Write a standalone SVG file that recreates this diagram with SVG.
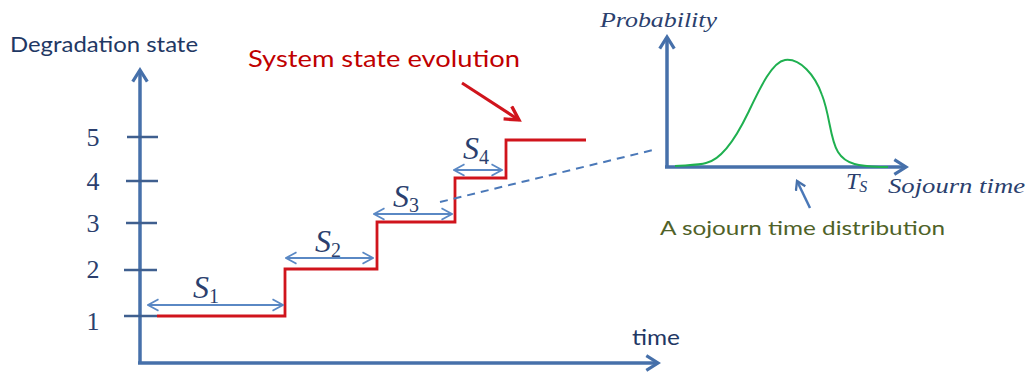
<svg xmlns="http://www.w3.org/2000/svg" width="1030" height="372" viewBox="0 0 1030 372">
  <style>
    .axis { stroke: #4670aa; stroke-width: 3.5; fill: none; stroke-linecap: butt; }
    .tick { stroke: #3f5f8f; stroke-width: 2.5; fill: none; }
    .span { stroke: #5a88c4; stroke-width: 2; fill: none; }
    .red { stroke: #d0141c; stroke-width: 2.8; fill: none; stroke-linejoin: miter; }
    text.math, .math text { font-family: "Liberation Serif", "DejaVu Serif", serif; fill: #2b3f6e; }
    .lbl { font-family: Lato, "Open Sans", "Liberation Sans", sans-serif; }
  </style>
  <defs>
    <marker id="ahs" viewBox="0 0 12 12" refX="11" refY="6" markerWidth="7" markerHeight="7" orient="auto-start-reverse" markerUnits="strokeWidth">
      <polyline points="2,1 11,6 2,11" fill="none" stroke="#5a88c4" stroke-width="1.5"/>
    </marker>
    <marker id="ahr" viewBox="0 0 12 12" refX="10" refY="6" markerWidth="6" markerHeight="6" orient="auto" markerUnits="strokeWidth">
      <polyline points="1,1 10,6 1,11" fill="none" stroke="#d0141c" stroke-width="2.2"/>
    </marker>
    <marker id="ahb" viewBox="0 0 12 12" refX="10" refY="6" markerWidth="5" markerHeight="5" orient="auto" markerUnits="strokeWidth">
      <polyline points="2,1 10,6 2,11" fill="none" stroke="#4670aa" stroke-width="2.2"/>
    </marker>
  </defs>

  <g id="main-axes">
    <text class="lbl" x="10" y="52" font-size="21" fill="#1f3864" textLength="188" lengthAdjust="spacingAndGlyphs">Degradation state</text>
    <line class="axis" x1="140" y1="363" x2="140" y2="70" marker-end="url(#ahb)"/>
    <line class="axis" x1="138" y1="363" x2="658" y2="363" marker-end="url(#ahb)"/>
    <text class="lbl" x="632" y="345" font-size="21" fill="#1f3864" textLength="48" lengthAdjust="spacingAndGlyphs">time</text>
  </g>

  <g id="ticks">
    <line class="tick" x1="127" y1="137" x2="158" y2="137"/>
    <line class="tick" x1="126" y1="181" x2="158" y2="181"/>
    <line class="tick" x1="126" y1="223" x2="157" y2="223"/>
    <line class="tick" x1="124" y1="270" x2="157" y2="270"/>
    <line class="tick" x1="124" y1="316" x2="157" y2="316"/>
    <g class="math" font-size="26" text-anchor="middle">
      <text x="93" y="146" font-family="Liberation Serif, serif">5</text>
      <text x="93" y="190" font-family="Liberation Serif, serif">4</text>
      <text x="93" y="232" font-family="Liberation Serif, serif">3</text>
      <text x="93" y="278" font-family="Liberation Serif, serif">2</text>
      <text x="93" y="330" font-family="Liberation Serif, serif">1</text>
    </g>
  </g>

  <g id="state-evolution">
    <polyline class="red" points="157,316 285,316 285,269 377,269 377,222 455,222 455,178 506,178 506,140 586,140"/>
    <text class="lbl" x="248" y="67" font-size="24" fill="#c00000" textLength="272" lengthAdjust="spacingAndGlyphs">System state evolution</text>
  </g>

  <g id="sojourn-spans">
    <line class="span" x1="148" y1="305" x2="283" y2="305" marker-start="url(#ahs)" marker-end="url(#ahs)"/>
    <line class="span" x1="286" y1="258" x2="373" y2="258" marker-start="url(#ahs)" marker-end="url(#ahs)"/>
    <line class="span" x1="374" y1="214" x2="452" y2="214" marker-start="url(#ahs)" marker-end="url(#ahs)"/>
    <line class="span" x1="454" y1="170" x2="502" y2="170" marker-start="url(#ahs)" marker-end="url(#ahs)"/>
    <g class="math" font-size="32" font-style="italic">
      <text x="193" y="298" font-family="Liberation Serif, serif">S<tspan font-style="normal" font-size="20" dy="5">1</tspan></text>
      <text x="315" y="252" font-family="Liberation Serif, serif">S<tspan font-style="normal" font-size="20" dy="5">2</tspan></text>
      <text x="393" y="207" font-family="Liberation Serif, serif">S<tspan font-style="normal" font-size="20" dy="5">3</tspan></text>
      <text x="463" y="159" font-family="Liberation Serif, serif">S<tspan font-style="normal" font-size="20" dy="5">4</tspan></text>
    </g>
  </g>

  <g id="connectors">
    <line x1="462" y1="83" x2="519" y2="120" stroke="#d0141c" stroke-width="3" marker-end="url(#ahr)"/>
    <line x1="440" y1="202" x2="653" y2="150" stroke="#4a78b8" stroke-width="2" stroke-dasharray="8,6"/>
    <line x1="810" y1="208" x2="797" y2="181" stroke="#4a78b8" stroke-width="2.5" marker-end="url(#ahb)"/>
  </g>

  <g id="distribution">
    <line class="axis" x1="667" y1="168" x2="667" y2="37" marker-end="url(#ahb)"/>
    <line class="axis" x1="665" y1="167" x2="906" y2="167" marker-end="url(#ahb)"/>
    <path d="M675,166 C690,165 700,165 706,163 C720,160 735,140 748,113 C760,88 772,62 785,60 C800,58 815,75 822,95 C830,115 830,140 838,152 C846,165 860,166 880,167 L888,167" fill="none" stroke="#1fb050" stroke-width="2"/>
    <text class="math" x="600" y="27" font-size="21" font-style="italic" font-family="Liberation Serif, serif" textLength="117" lengthAdjust="spacingAndGlyphs">Probability</text>
    <text class="math" x="846" y="189" font-size="24" font-style="italic" font-family="Liberation Serif, serif">T<tspan font-size="16" dy="3">S</tspan></text>
    <text class="math" x="888" y="193" font-size="21" font-style="italic" font-family="Liberation Serif, serif" textLength="137" lengthAdjust="spacingAndGlyphs">Sojourn time</text>
    <text class="lbl" x="660" y="235" font-size="20" fill="#4f6228" textLength="285" lengthAdjust="spacingAndGlyphs">A sojourn time distribution</text>
  </g>
</svg>
